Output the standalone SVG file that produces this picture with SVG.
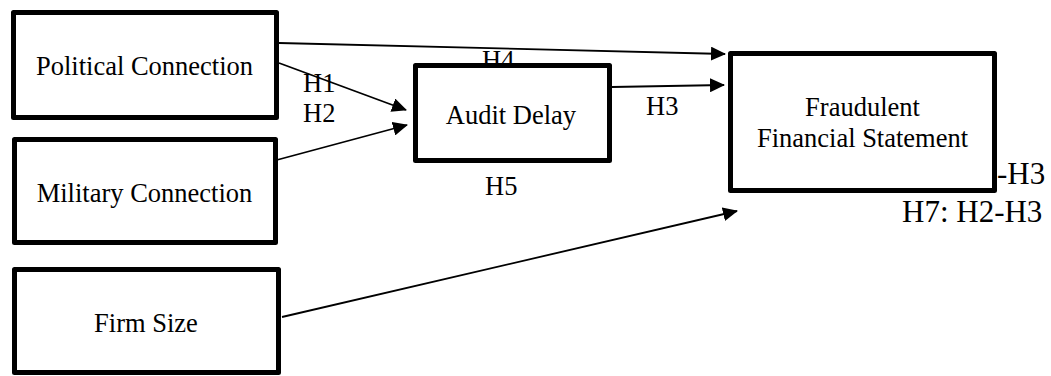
<svg xmlns="http://www.w3.org/2000/svg" width="1051" height="376" viewBox="0 0 1051 376">
  <style>
    .box { fill: #ffffff; stroke: #000000; stroke-width: 5; stroke-linejoin: round; }
    .lbl { font-family: "Liberation Serif", "Times New Roman", serif; font-size: 26.5px; fill: #000000; }
    .big { font-size: 31px; }
    .mid { text-anchor: middle; }
    .edge { fill: none; stroke: #000000; stroke-width: 1.8; marker-end: url(#arrow); }
  </style>
  <defs>
    <marker id="arrow" markerUnits="userSpaceOnUse" markerWidth="15" markerHeight="14" refX="14" refY="7" orient="auto">
      <path d="M0,0 L15,7 L0,14 Z" fill="#000000"/>
    </marker>
  </defs>
  <rect width="1051" height="376" fill="#ffffff"/>

  <!-- connectors -->
  <g id="connectors">
    <line class="edge" x1="279" y1="43" x2="725" y2="54"/>
    <line class="edge" x1="279" y1="63" x2="406" y2="110"/>
    <line class="edge" x1="273" y1="161" x2="407" y2="125"/>
    <line class="edge" x1="612" y1="87" x2="724" y2="85"/>
    <line class="edge" x1="282" y1="317" x2="737" y2="211"/>
  </g>

  <!-- hypothesis labels -->
  <g id="labels">
    <text class="lbl" x="303" y="92">H1</text>
    <text class="lbl" x="303" y="122">H2</text>
    <text class="lbl" x="482" y="69">H4</text>
    <text class="lbl" x="646" y="115">H3</text>
    <text class="lbl" x="485" y="195">H5</text>
    <text class="lbl big" x="997" y="184">-H3</text>
    <text class="lbl big" x="902" y="222">H7: H2-H3</text>
  </g>

  <g id="political-connection">
    <rect class="box" x="13.5" y="12.5" width="263" height="105"/>
    <text class="lbl mid" x="144.5" y="75">Political Connection</text>
  </g>
  <g id="military-connection">
    <rect class="box" x="14.5" y="139.5" width="261" height="103"/>
    <text class="lbl mid" x="144.5" y="202">Military Connection</text>
  </g>
  <g id="firm-size">
    <rect class="box" x="14.5" y="269.5" width="264" height="103"/>
    <text class="lbl mid" x="146" y="332">Firm Size</text>
  </g>
  <g id="audit-delay">
    <rect class="box" x="415.5" y="65.5" width="194" height="95"/>
    <text class="lbl mid" x="511" y="124">Audit Delay</text>
  </g>
  <g id="fraudulent-financial-statement">
    <rect class="box" x="730.5" y="53.5" width="264" height="137"/>
    <text class="lbl mid" x="862.5" y="116">Fraudulent</text>
    <text class="lbl mid" x="862.5" y="147">Financial Statement</text>
  </g>
</svg>
